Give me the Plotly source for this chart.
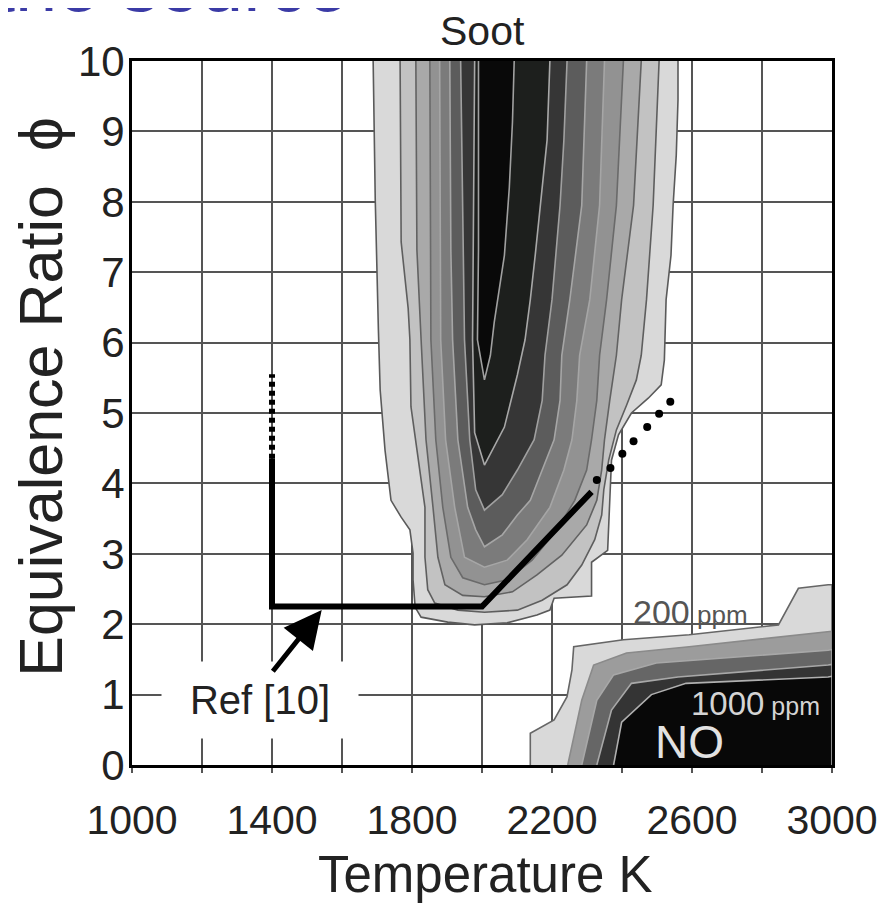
import plotly.graph_objects as go

# ---------------- data ----------------
# Soot contour bands (outer -> inner): boundary vertices (Temperature K, equivalence ratio)
soot1_T = [1689, 1695, 1704, 1709, 1723, 1740, 1769, 1794, 1803, 1803, 1809, 1826, 1902, 1979, 2072, 2157, 2194,
           2206, 2313, 2313, 2359, 2365, 2370, 2390, 2427, 2475, 2512, 2521, 2526, 2540, 2546, 2555, 2560, 2560]
soot1_phi = [10, 8.03, 6.18, 5.33, 4.47, 3.76, 3.52, 3.34, 3.01, 2.63, 2.24, 2.10, 2.03, 1.99, 2.02, 2.13, 2.20,
             2.37, 2.40, 2.88, 3.05, 3.76, 4.33, 4.69, 5.0, 5.21, 5.40, 5.75, 6.61, 7.24, 7.95, 8.66, 9.45, 10]

soot2_T = [1766, 1769, 1789, 1794, 1797, 1817, 1837, 1837, 1845, 1865, 1931, 2007,
           2101, 2172, 2243, 2285, 2322, 2342, 2348, 2362, 2384, 2413, 2441, 2455, 2470, 2489, 2506]
soot2_phi = [10, 7.43, 6.49, 6.04, 5.09, 4.38, 3.66, 2.95, 2.49, 2.30, 2.20, 2.17,
             2.20, 2.34, 2.56, 2.84, 3.20, 3.55, 3.91, 4.33, 4.76, 5.11, 5.47, 5.82, 6.61, 7.95, 10]

soot3_T = [1811, 1814, 1826, 1840, 1860, 1874, 1894, 1945, 2007,
           2087, 2157, 2228, 2299, 2328, 2342, 2350, 2365, 2384, 2399, 2433, 2455]
soot3_phi = [10, 7.32, 6.04, 4.62, 3.66, 2.95, 2.56, 2.41, 2.39,
             2.46, 2.70, 2.98, 3.41, 3.76, 4.19, 4.62, 5.18, 5.82, 6.61, 7.95, 10]

soot4_T = [1851, 1854, 1854, 1868, 1888, 1911, 1945, 2007,
           2072, 2143, 2214, 2265, 2299, 2313, 2328, 2336, 2356, 2384, 2404]
soot4_phi = [10, 7.32, 6.04, 4.62, 3.66, 2.95, 2.66, 2.56,
             2.63, 2.91, 3.34, 3.76, 4.19, 4.62, 5.18, 5.82, 6.61, 7.95, 10]

soot5_T = [1879, 1882, 1882, 1896, 1922, 1950, 2007,
           2072, 2129, 2194, 2234, 2257, 2271, 2279, 2308, 2336, 2350]
soot5_phi = [10, 7.32, 6.04, 4.62, 3.66, 2.95, 2.81,
             2.91, 3.20, 3.66, 4.19, 4.62, 5.18, 5.82, 6.61, 7.95, 10]

soot6_T = [1908, 1911, 1916, 1931, 1959, 1982, 2007,
           2058, 2101, 2138, 2172, 2206, 2223, 2228, 2251, 2285, 2299]
soot6_phi = [10, 7.32, 6.04, 4.62, 3.66, 3.34, 3.10,
             3.27, 3.55, 3.76, 4.19, 4.62, 5.18, 5.82, 6.61, 7.95, 10]

soot7_T = [1939, 1945, 1950, 1965, 1982, 2007,
           2058, 2101, 2149, 2172, 2180, 2200, 2223, 2234, 2243]
soot7_phi = [10, 7.32, 6.04, 4.62, 3.91, 3.62,
             3.84, 4.19, 4.62, 5.18, 5.82, 6.61, 7.95, 8.88, 10]

soot8_T = [1979, 1976, 1973, 1979, 2007, 2064, 2101, 2123, 2138, 2152, 2166, 2186, 2194]
soot8_phi = [10, 7.32, 6.04, 4.72, 4.26, 4.80, 5.54, 6.04, 6.61, 7.24, 7.95, 8.88, 10]

soot9_T = [1990, 1990, 1987, 2007, 2024, 2035, 2064, 2078, 2087, 2092]
soot9_phi = [10, 7.32, 6.04, 5.47, 5.82, 6.29, 7.24, 8.20, 9.13, 10]

# NO contour bands (outer -> inner)
no1_T = [2138, 2138, 2206, 2243, 2257, 2262, 2404, 2592, 2847, 2904, 2989, 3000, 3000]
no1_phi = [0, 0.45, 0.64, 0.97, 1.35, 1.68, 1.78, 1.85, 1.99, 2.51, 2.56, 2.56, 0]
no2_T = [2245, 2285, 2319, 2413, 2592, 2980, 3000, 3000]
no2_phi = [0, 0.92, 1.42, 1.59, 1.68, 1.88, 1.90, 0]
no3_T = [2285, 2328, 2376, 2498, 2989, 3000, 3000]
no3_phi = [0, 0.92, 1.28, 1.45, 1.63, 1.64, 0]
no4_T = [2328, 2370, 2427, 2560, 2989, 3000, 3000]
no4_phi = [0, 0.78, 1.16, 1.25, 1.42, 1.43, 0]
no5_T = [2376, 2399, 2484, 2583, 2989, 3000, 3000]
no5_phi = [0, 0.61, 1.00, 1.16, 1.25, 1.26, 0]

# Ref [10] path
ref_solid_T = [1400, 1400, 2000, 2313]
ref_solid_phi = [4.35, 2.25, 2.25, 3.88]
ref_vdot_T = [1400, 1400]
ref_vdot_phi = [4.35, 5.55]
ref_ddot_T = [2328, 2367, 2401, 2433, 2472, 2506, 2538]
ref_ddot_phi = [4.05, 4.22, 4.42, 4.60, 4.80, 4.99, 5.16]

x_ticks = [1000, 1400, 1800, 2200, 2600, 3000]
y_ticks = [0, 1, 2, 3, 4, 5, 6, 7, 8, 9, 10]

soot_fill = ['#d9d9d9', '#c2c2c2', '#a9a9a9', '#929292', '#7b7b7b', '#5c5c5c', '#363636', '#1d1f1d', '#090909']
soot_line = ['#5a5a5a', '#5e5e5e', '#626262', '#6a6a6a', '#a6a6a6', '#a6a6a6', '#a0a0a0', '#a8a8a8', '#a0a0a0']
no_fill = ['#d9d9d9', '#9c9c9c', '#666666', '#343434', '#080808']
no_line = ['#666666', '#8a8a8a', '#a8a8a8', '#a8a8a8', '#b0b0b0']

FONT = "Liberation Sans, Arial, sans-serif"

fig = go.Figure()

soot_T = [soot1_T, soot2_T, soot3_T, soot4_T, soot5_T, soot6_T, soot7_T, soot8_T, soot9_T]
soot_phi = [soot1_phi, soot2_phi, soot3_phi, soot4_phi, soot5_phi, soot6_phi, soot7_phi, soot8_phi, soot9_phi]
for T, p, fc, lc in zip(soot_T, soot_phi, soot_fill, soot_line):
    fig.add_trace(go.Scatter(x=T, y=p, mode='lines', fill='toself', fillcolor=fc,
                             line=dict(color=lc, width=1.6), hoverinfo='skip', showlegend=False))

no_T = [no1_T, no2_T, no3_T, no4_T, no5_T]
no_phi = [no1_phi, no2_phi, no3_phi, no4_phi, no5_phi]
for T, p, fc, lc in zip(no_T, no_phi, no_fill, no_line):
    fig.add_trace(go.Scatter(x=T, y=p, mode='lines', fill='toself', fillcolor=fc,
                             line=dict(color=lc, width=1.6), hoverinfo='skip', showlegend=False))

fig.add_trace(go.Scatter(x=ref_solid_T, y=ref_solid_phi, mode='lines',
                         line=dict(color='black', width=6), showlegend=False, hoverinfo='skip'))
fig.add_trace(go.Scatter(x=ref_vdot_T, y=ref_vdot_phi, mode='lines',
                         line=dict(color='black', width=6, dash='5px,4px'), showlegend=False, hoverinfo='skip'))
fig.add_trace(go.Scatter(x=ref_ddot_T, y=ref_ddot_phi, mode='markers',
                         marker=dict(color='black', size=8), showlegend=False, hoverinfo='skip'))

annotations = [
    dict(text="the source", xref='paper', yref='paper', x=-0.2, y=1.045, xanchor='left', yanchor='bottom',
         showarrow=False, font=dict(family=FONT, size=76, color='#3b3ba6')),
    dict(text="Soot", xref='paper', yref='paper', x=0.5, y=1.043, xanchor='center', yanchor='middle',
         showarrow=False, font=dict(family=FONT, size=41, color='#222')),
    dict(text="Temperature K", xref='paper', yref='paper', x=0.505, y=-0.155, xanchor='center', yanchor='middle',
         showarrow=False, font=dict(family=FONT, size=51, color='#222')),
    dict(text="Equivalence Ratio\u00a0\u00a0\u03d5", xref='paper', yref='paper', x=-0.13, y=0.523,
         xanchor='center', yanchor='middle', textangle=-90,
         showarrow=False, font=dict(family=FONT, size=61, color='#222')),
    dict(text="Ref [10]", xref='x', yref='y', x=1366, y=0.92, xanchor='center', yanchor='middle',
         showarrow=False, bgcolor='white', width=194, height=74,
         font=dict(family=FONT, size=40, color='#222')),
    dict(text="", xref='x', yref='y', x=1542, y=2.20, axref='x', ayref='y', ax=1399, ay=1.31,
         showarrow=True, arrowhead=2, arrowsize=1.5, arrowwidth=5, arrowcolor='black'),
    dict(text="200<span style='font-size:26px'> ppm</span>", xref='x', yref='y', x=2427, y=2.18,
         xanchor='left', yanchor='middle', showarrow=False, font=dict(family=FONT, size=34, color='#555')),
    dict(text="1000<span style='font-size:25px'> ppm</span>", xref='x', yref='y', x=2592, y=0.88,
         xanchor='left', yanchor='middle', showarrow=False, font=dict(family=FONT, size=33, color='#d4d4d4')),
    dict(text="NO", xref='x', yref='y', x=2592, y=0.33,
         xanchor='center', yanchor='middle', showarrow=False, font=dict(family=FONT, size=46, color='#e2e2e2')),
]

# the page body adds an 8px offset, so the figure is sized/margined to land the plot area in place
fig.update_layout(
    width=882, height=904,
    margin=dict(l=124, r=53, t=53, b=147),
    paper_bgcolor='white', plot_bgcolor='white',
    showlegend=False,
    annotations=annotations,
    font=dict(family=FONT, color='#222'),
)
fig.update_xaxes(range=[1000, 3000], tickvals=x_ticks, ticktext=[str(v) for v in x_ticks],
                 showgrid=True, gridcolor='#555555', gridwidth=2,
                 minor=dict(dtick=200, tick0=1000, showgrid=True, gridcolor='#555555', gridwidth=2,
                            ticks='outside', ticklen=5, tickcolor='#555555', tickwidth=2),
                 ticks='outside', ticklen=5, tickcolor='#555555', tickwidth=2,
                 showline=True, linecolor='black', linewidth=3, mirror=True, zeroline=False,
                 tickfont=dict(family=FONT, size=41, color='#222'), ticklabelstandoff=12)
fig.update_yaxes(range=[0, 10], tickvals=y_ticks, ticktext=[str(v) for v in y_ticks],
                 showgrid=True, gridcolor='#555555', gridwidth=2,
                 showline=True, linecolor='black', linewidth=3, mirror=True, zeroline=False,
                 ticks='', tickfont=dict(family=FONT, size=42, color='#222'), ticklabelstandoff=-4)

fig.write_html("out.html")
